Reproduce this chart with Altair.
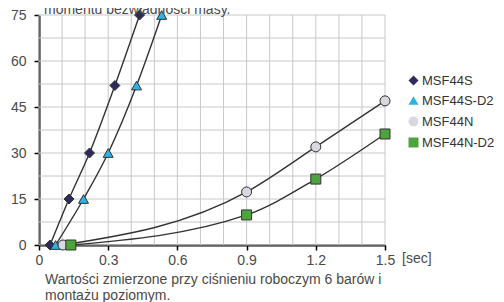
import altair as alt
import pandas as pd

series_names = ["MSF44S", "MSF44S-D2", "MSF44N", "MSF44N-D2"]
series_colors = ["#2d2b5c", "#2ab4e4", "#d8d8e0", "#4ea43c"]
series_shapes = ["diamond", "triangle-up", "circle", "square"]

msf44s_t = [0.048, 0.13, 0.219, 0.329, 0.436]
msf44s_m = [0, 15, 30, 52, 75]
msf44s_d2_t = [0.072, 0.193, 0.30, 0.423, 0.532]
msf44s_d2_m = [0, 15, 30, 52, 75]
msf44n_t = [0.104, 0.9, 1.2, 1.5]
msf44n_m = [0, 17.3, 32, 47]
msf44n_d2_t = [0.138, 0.9, 1.2, 1.5]
msf44n_d2_m = [0, 9.8, 21.5, 36.2]

x_ticks = [0, 0.3, 0.6, 0.9, 1.2, 1.5]
y_ticks = [0, 15, 30, 45, 60, 75]
x_grid = [round(i * 0.1, 1) for i in range(16)]
y_grid = [i * 7.5 for i in range(11)]

top_text = "momentu bezwładności masy."
foot_lines = ["Wartości zmierzone przy ciśnieniu roboczym 6 barów i", "montażu poziomym."]
unit_text = "[sec]"

rows = []
for name, ts, ms in [
    ("MSF44S", msf44s_t, msf44s_m),
    ("MSF44S-D2", msf44s_d2_t, msf44s_d2_m),
    ("MSF44N", msf44n_t, msf44n_m),
    ("MSF44N-D2", msf44n_d2_t, msf44n_d2_m),
]:
    for t, m in zip(ts, ms):
        rows.append({"series": name, "t": t, "m": m})
df = pd.DataFrame(rows)

FONT = "Liberation Sans"
TXT = "#4a4a4a"

x_axis = alt.Axis(
    values=x_ticks,
    format=".1f",
    labelExpr="datum.value == 0 ? '0' : datum.label",
    grid=False,
    labelOverlap=False,
    labelFlush=False,
    title=None,
)
y_axis = alt.Axis(
    values=y_ticks,
    format="d",
    grid=False,
    labelOverlap=False,
    labelFlush=False,
    title=None,
)
x_scale = alt.Scale(domain=[0, 1.5], nice=False)
y_scale = alt.Scale(domain=[0, 75], nice=False)

def xe(field="t"):
    return alt.X(field + ":Q", scale=x_scale, axis=x_axis)

def ye(field="m"):
    return alt.Y(field + ":Q", scale=y_scale, axis=y_axis)

vgrid = alt.Chart(pd.DataFrame({"t": x_grid})).mark_rule(color="#c8c8c8", strokeWidth=1).encode(x=xe())
hgrid = alt.Chart(pd.DataFrame({"m": y_grid})).mark_rule(color="#c8c8c8", strokeWidth=1).encode(y=ye())

base = alt.Chart(df)

lines = base.mark_line(interpolate="monotone", color="#333333", strokeWidth=1.4).encode(
    x=xe(), y=ye(), detail="series:N"
)

leg = alt.Legend(
    orient="none",
    legendX=368,
    legendY=59,
    symbolStrokeColor="#333333",
    symbolStrokeWidth=1,
    symbolOpacity=1,
)

points = base.mark_point(filled=True, stroke="#333333", strokeWidth=1, size=100, opacity=1).encode(
    x=xe(),
    y=ye(),
    fill=alt.Fill(
        "series:N",
        scale=alt.Scale(domain=series_names, range=series_colors),
        title=None,
        legend=leg,
    ),
    shape=alt.Shape(
        "series:N",
        scale=alt.Scale(domain=series_names, range=series_shapes),
        title=None,
        legend=leg,
    ),
)

def txt_layer(s, x, y, size=14):
    return alt.Chart(pd.DataFrame({"txt": [s]})).mark_text(
        align="left", baseline="alphabetic", font=FONT, fontSize=size, color=TXT
    ).encode(text="txt:N", x=alt.value(x), y=alt.value(y))

top = txt_layer(top_text, 5, -1)
foot1 = txt_layer(foot_lines[0], 6, 268.5)
foot2 = txt_layer(foot_lines[1], 6, 284.5)
unit = txt_layer(unit_text, 363, 248)

chart = (
    alt.layer(vgrid, hgrid, lines, points, top, foot1, foot2, unit)
    .properties(
        width=346,
        height=230,
        autosize=alt.AutoSizeParams(type="none"),
        padding={"left": 31, "top": 7, "right": 111, "bottom": 57},
        background="white",
    )
    .configure_view(stroke=None)
    .configure_axis(
        domainColor="#000000",
        domainWidth=2,
        tickColor="#000000",
        tickWidth=1.5,
        tickSize=5,
        labelFont=FONT,
        labelFontSize=14,
        labelColor=TXT,
    )
    .configure_axisX(labelPadding=3)
    .configure_axisY(labelPadding=8)
    .configure_legend(
        labelFont=FONT,
        labelFontSize=13,
        labelColor="#333333",
        symbolSize=100,
        labelOffset=2,
        rowPadding=6,
        padding=0,
    )
)

chart.save("out.html", embed_options={"renderer": "svg", "actions": False})
